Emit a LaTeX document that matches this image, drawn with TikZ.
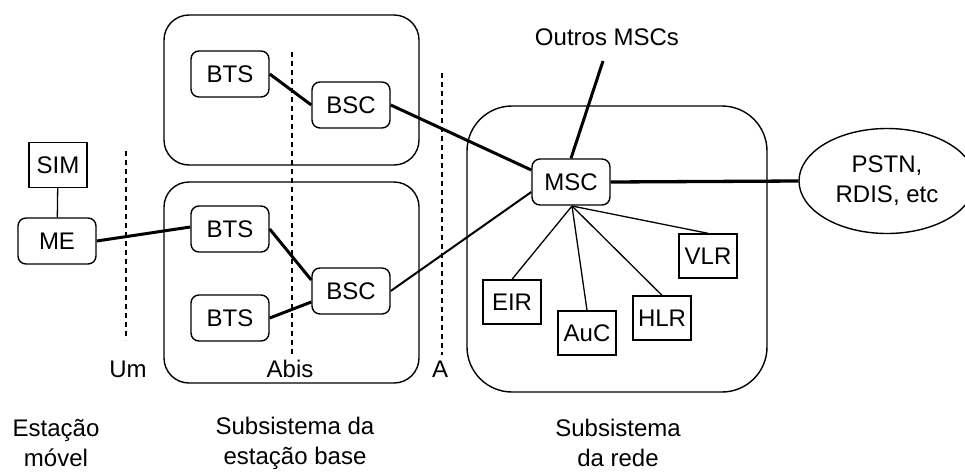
\documentclass[tikz,border=0pt]{standalone}
\usepackage{fontspec}
\setmainfont{Liberation Sans}
\usetikzlibrary{shapes.geometric}
\begin{document}
\begin{tikzpicture}[x=1pt,y=-1pt,
  font=\fontsize{24pt}{30pt}\selectfont,
  unit/.style={draw, line width=1.4pt, rounded corners=8pt, minimum width=78pt, minimum height=46pt, inner sep=0pt},
  reg/.style={draw, line width=1.4pt, minimum width=58pt, minimum height=44pt, inner sep=0pt},
  area/.style={draw, line width=1.4pt},
  iface/.style={line width=1.3pt, dash pattern=on 5pt off 4pt},
  trunk/.style={line width=3pt},
  link/.style={line width=1.3pt},
  tag/.style={anchor=base, inner sep=0pt},
  caption/.style={align=center, inner sep=0pt}]
\useasboundingbox (0,0) rectangle (965,471);

% subsystem outlines
\draw[area, rounded corners=25pt] (164,15) rectangle (419,165);
\draw[area, rounded corners=25pt] (164,182) rectangle (419,383);
\draw[area, rounded corners=45pt] (467,106) rectangle (767,392);

% radio / Abis / A interfaces
\draw[iface] (126,151) -- (126,340);
\draw[iface] (292,52) -- (292,355);
\draw[iface] (442,73) -- (442,355);
\node[tag] (um) at (128,377) {Um};
\node[tag] (abis) at (290,377) {Abis};
\node[tag] (ai) at (440,377) {A};

% mobile station
\node[reg, minimum height=45pt] (sim) at (58,165) {SIM};
\node[unit] (me) at (57,241) {ME};

% base station subsystem
\node[unit] (btsA) at (230,74) {BTS};
\node[unit] (bscA) at (351,105) {BSC};
\node[unit] (btsB) at (230,229) {BTS};
\node[unit] (btsC) at (230,318) {BTS};
\node[unit] (bscB) at (351,291) {BSC};

% network subsystem
\node[unit] (msc) at (571,182) {MSC};
\coordinate (hub) at (572,206);
\node[reg] (eir) at (512,302) {EIR};
\node[reg] (auc) at (587,333) {AuC};
\node[reg] (hlr) at (662,318) {HLR};
\node[reg] (vlr) at (708,256) {VLR};
\node[ellipse, draw, line width=1.4pt, minimum width=176pt, minimum height=105pt,
      inner sep=0pt, align=center] (pstn) at (887,181) {PSTN,\\RDIS, etc};
\node[inner sep=0pt] (outros) at (607,37) {Outros MSCs};
\coordinate (outrosend) at (603,61);

% connections
\draw[link] (sim) -- (me);
\draw[trunk] (me.east) -- ([yshift=2pt]btsB.west);
\draw[trunk] (btsA.east) -- (bscA.west);
\draw[trunk] (btsB.east) -- ([yshift=11pt]bscB.west);
\draw[trunk] (btsC.east) -- ([yshift=-11pt]bscB.west);
\draw[trunk] (bscA.east) -- ([yshift=12pt]msc.west);
\draw[line width=2pt] (bscB.east) -- ([yshift=-10pt]msc.west);
\draw[line width=3.3pt] (msc.east) -- (pstn.west);
\draw[trunk] (outrosend) -- (msc.north);
\draw[link] (hub) -- (eir.north);
\draw[link] (hub) -- (auc.north);
\draw[link] (hub) -- (hlr.north);
\draw[link] (hub) -- (vlr.north);

% subsystem captions
\node[caption] (cms) at (56,443) {Estação\\móvel};
\node[caption] (cbss) at (295,443) {Subsistema da\\estação base};
\node[caption] (cnss) at (618,443) {Subsistema\\da rede};
\end{tikzpicture}
\end{document}
